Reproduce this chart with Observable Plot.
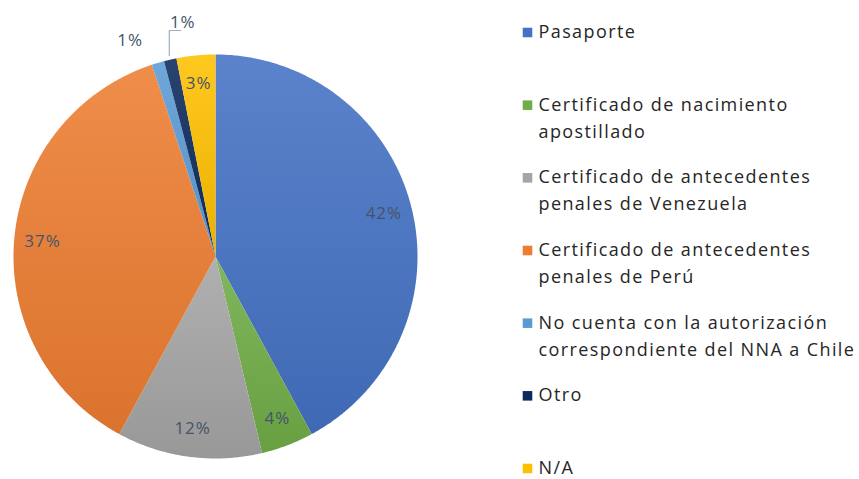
<!DOCTYPE html>
<html><head><meta charset="utf-8">
<script src="https://cdn.jsdelivr.net/npm/d3@7"></script>
<script src="https://cdn.jsdelivr.net/npm/@observablehq/plot@0.6"></script>
<style>
body{margin:0;background:#fff;}
#wrap{display:flex;width:859px;height:479px;overflow:hidden;}
</style></head><body><div id="wrap"></div>
<script>
// ---- data ----
const categories = ["Pasaporte", "Certificado de nacimiento apostillado", "Certificado de antecedentes penales de Venezuela", "Certificado de antecedentes penales de Perú", "No cuenta con la autorización correspondiente del NNA a Chile", "Otro", "N/A"];
const legendLabels = ["Pasaporte", "Certificado de nacimiento\napostillado", "Certificado de antecedentes\npenales de Venezuela", "Certificado de antecedentes\npenales de Perú", "No cuenta con la autorización\ncorrespondiente del NNA a Chile", "Otro", "N/A"];
const values = [42.1, 4.2, 11.6, 37.0, 1.0, 1.0, 3.1];
const percentLabels = ["42%", "4%", "12%", "37%", "1%", "1%", "3%"];
const colors = ["#4472C4", "#70AD47", "#A5A5A5", "#ED7D31", "#5B9BD5", "#0D2A5E", "#FFC000"];

// ---- layout constants ----
const insideR = 0.86, outsideR = 1.15, bumpedR = 1.17, spreadDeg = 5, smallThreshold = 2;
const font = "Open Sans";

// ---- pie geometry (unit circle, clockwise from 12 o'clock) ----
const total = d3.sum(values);
const cum = d3.cumsum(values);
const slices = categories.map((c, i) => {
  const a0 = (cum[i] - values[i]) / total * 2 * Math.PI;
  const a1 = cum[i] / total * 2 * Math.PI;
  return {cat: c, i, a0, a1, mid: (a0 + a1) / 2, v: values[i]};
});
const pts = [];
for (const s of slices) {
  pts.push({cat: s.cat, x: 0, y: 0});
  const n = Math.max(2, Math.ceil((s.a1 - s.a0) / (Math.PI / 360)));
  for (let k = 0; k <= n; k++) {
    const a = s.a0 + (s.a1 - s.a0) * k / n;
    pts.push({cat: s.cat, x: Math.sin(a), y: Math.cos(a)});
  }
  pts.push({cat: s.cat, x: 0, y: 0});
}

// labels
const labels = [];
const leaders = [];
let prevSmall = false;
slices.forEach(s => {
  if (s.v >= smallThreshold) {
    labels.push({t: percentLabels[s.i], x: insideR * Math.sin(s.mid), y: insideR * Math.cos(s.mid), anchor: "middle"});
    prevSmall = false;
  } else if (!prevSmall) {
    const a = s.mid - spreadDeg * Math.PI / 180;
    labels.push({t: percentLabels[s.i], x: outsideR * Math.sin(a), y: outsideR * Math.cos(a), anchor: "middle"});
    prevSmall = true;
  } else {
    const a = s.mid + spreadDeg * Math.PI / 180;
    const lx = bumpedR * Math.sin(a), ly = bumpedR * Math.cos(a);
    labels.push({t: percentLabels[s.i], x: lx, y: ly, anchor: "start"});
    const ex = Math.sin(s.mid), ey = Math.cos(s.mid);
    const hy = ly - 0.04;
    leaders.push({x: ex * 1.02, y: ey * 1.02}, {x: ex * 1.02, y: hy}, {x: lx - 0.01, y: hy});
    prevSmall = false;
  }
});

const gradIds = categories.map((c, i) => "grad" + i);

const pie = Plot.plot({
  width: 430, height: 479,
  marginLeft: 13, marginRight: 13, marginTop: 54, marginBottom: 21,
  x: {domain: [-1, 1], axis: null},
  y: {domain: [-1, 1], axis: null},
  color: {domain: categories, range: gradIds.map(id => `url(#${id})`)},
  style: {fontFamily: font, background: "#fff", overflow: "visible", letterSpacing: "1px"},
  marks: [
    Plot.line(pts, {x: "x", y: "y", z: "cat", fill: "cat", stroke: "none", curve: "linear"}),
    Plot.line(leaders, {x: "x", y: "y", stroke: "#A3AFBF", strokeWidth: 1.2}),
    Plot.text(labels, {x: "x", y: "y", text: "t", textAnchor: d => d.anchor, fill: "#44546A", fontSize: 17})
  ]
});
// gradient defs
const defs = d3.select(pie).insert("defs", ":first-child");
colors.forEach((c, i) => {
  const g = defs.append("linearGradient").attr("id", gradIds[i]).attr("x1", 0).attr("y1", 0).attr("x2", 0).attr("y2", 1);
  g.append("stop").attr("offset", "0%").attr("stop-color", d3.interpolateRgb(c, "#fff")(0.12));
  g.append("stop").attr("offset", "100%").attr("stop-color", d3.interpolateRgb(c, "#000")(0.08));
});

const legend = Plot.plot({
  width: 429, height: 479,
  marginLeft: 97, marginRight: 0, marginTop: 32, marginBottom: 11,
  y: {domain: [0, categories.length - 1], axis: null, reverse: true},
  style: {fontFamily: font, background: "#fff", overflow: "visible", letterSpacing: "1.4px"},
  marks: [
    Plot.dot(categories, {y: (d, i) => i, frameAnchor: "left", symbol: "square", r: 5.4, fill: colors, stroke: "none"}),
    Plot.text(legendLabels, {y: (d, i) => i, text: d => d, frameAnchor: "left", dx: 11, dy: -13.5, textAnchor: "start", lineAnchor: "top", lineHeight: 1.5, fill: "#262626", fontSize: 18})
  ]
});
document.getElementById("wrap").append(pie, legend);
</script></body></html>
